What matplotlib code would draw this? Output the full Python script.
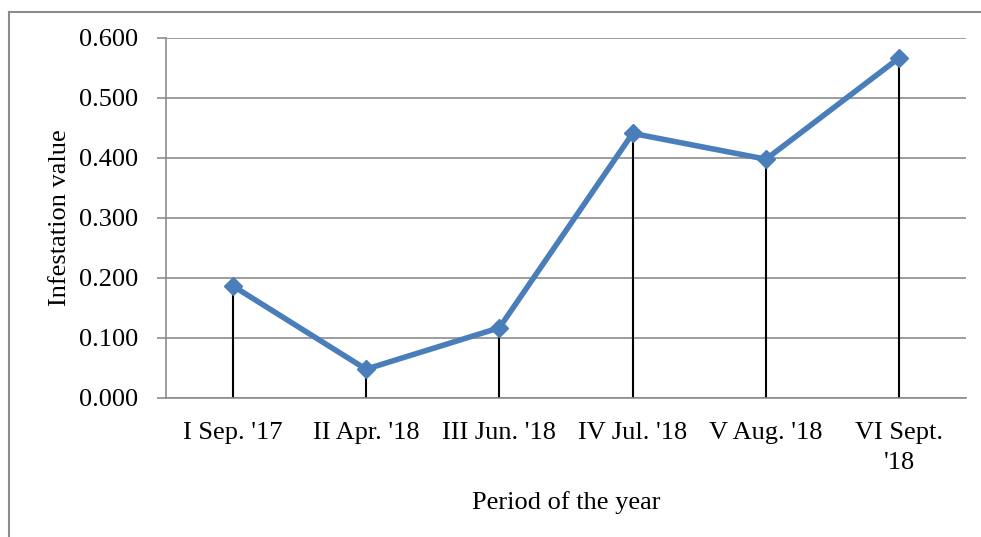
import matplotlib
matplotlib.use("Agg")
import matplotlib.pyplot as plt
from matplotlib.lines import Line2D

categories = ["I Sep. '17", "II Apr. '18", "III Jun. '18", "IV Jul. '18", "V Aug. '18", "VI Sept.\n'18"]
values = [0.187, 0.048, 0.117, 0.441, 0.398, 0.567]
yticks = [0.0, 0.1, 0.2, 0.3, 0.4, 0.5, 0.6]

plt.rcParams['font.family'] = ['Liberation Serif', 'DejaVu Serif']

fig = plt.figure(figsize=(9.81, 5.37), dpi=100)
ax = fig.add_axes([166/981, 1-398/537, 800/981, 360/537])

x = list(range(len(categories)))
ax.vlines(x, 0, values, colors='black', linewidth=1.5, zorder=2)
ax.plot(x, values, color='#4a7ebb', linewidth=4, marker='D', markersize=9,
        markerfacecolor='#4a7ebb', markeredgecolor='#4a7ebb', zorder=3)

ax.set_xlim(-0.5, len(categories)-0.5)
ax.set_ylim(0, 0.6)
ax.set_yticks(yticks)
ax.set_yticklabels([f"{v:.3f}" for v in yticks])
ax.set_xticks(x)
ax.set_xticklabels(categories)
ax.grid(axis='y', color='#8c8c8c', linewidth=1.2)
ax.set_axisbelow(True)
for s in ['top', 'right']:
    ax.spines[s].set_visible(False)
ax.spines['left'].set_color('#8c8c8c')
ax.spines['bottom'].set_color('#8c8c8c')
ax.spines['left'].set_linewidth(1.2)
ax.spines['bottom'].set_linewidth(1.2)
ax.tick_params(axis='y', length=6.5, color='#8c8c8c', width=1.2, pad=13.5, labelsize=19)
ax.tick_params(axis='x', length=0, pad=17, labelsize=19)
for t in ax.get_xticklabels():
    t.set_horizontalalignment('center')
    t.set_multialignment('center')
    t.set_linespacing(1.5)

ax.set_ylabel("Infestation value", fontsize=19, labelpad=6)
ax.set_xlabel("Period of the year", fontsize=19, labelpad=12)

# figure frame (top and left edges)
fig.add_artist(Line2D([9/981, 1], [1-12/537, 1-12/537], color='#8c8c8c', linewidth=1.5, transform=fig.transFigure))
fig.add_artist(Line2D([9/981, 9/981], [0, 1-12/537], color='#8c8c8c', linewidth=1.5, transform=fig.transFigure))

fig.savefig("out.png", dpi=100)
